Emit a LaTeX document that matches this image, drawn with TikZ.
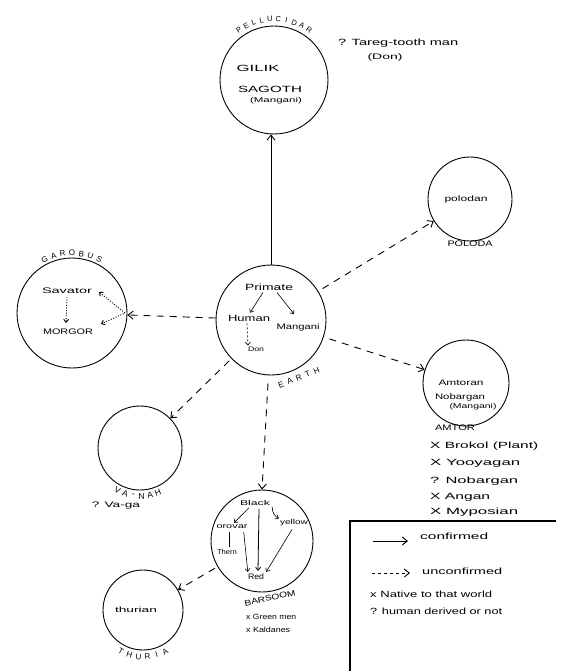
\documentclass[tikz,border=0pt]{standalone}
\usepackage{fontspec}
\setmainfont{Liberation Sans}
\usepackage{graphicx}
\usetikzlibrary{arrows.meta,calc}
\newcommand\hwid[2]{\resizebox{#1pt}{\height}{#2}}
\begin{document}
\begin{tikzpicture}[x=1pt,y=-1pt,
  planet/.style={draw, circle, line width=0.9pt, inner sep=0pt},
  txt/.style={inner sep=0pt, font=\fontsize{#1}{#1}\selectfont},
  tip/.style={-{Straight Barb[length=5pt,width=8pt]}},
  conf/.style={tip, line width=0.9pt},
  unconf/.style={tip, line width=0.9pt, dash pattern=on 7pt off 6pt},
  mini/.style={-{Straight Barb[length=3pt,width=5pt]}, line width=0.6pt},
  dots/.style={dash pattern=on 1pt off 1.6pt, line width=0.9pt},
]
\useasboundingbox (0,0) rectangle (560,671);

% planets
\node[planet, minimum size=108pt] (pel) at (274,80) {};
\node[planet, minimum size=84pt] (pol) at (470,199) {};
\node[planet, minimum size=110pt] (gar) at (72,313) {};
\node[planet, minimum size=110pt] (earth) at (271,320) {};
\node[planet, minimum size=86pt] (amt) at (466,383) {};
\node[planet, minimum size=84pt] (van) at (140,448) {};
\node[planet, minimum size=102pt] (bar) at (262,541) {};
\node[planet, minimum size=80pt] (thu) at (143,610) {};

% connectors
\draw[conf] (earth.north) -- (earth.north |- pel.south);
\draw[unconf, shorten <=5pt] (earth) -- (pol);
\draw[unconf] (earth) -- (gar);
\draw[unconf, shorten <=6pt] (earth) -- (amt);
\draw[unconf, shorten <=3pt] (earth) -- (van);
\draw[unconf] ($(earth.south)+(-3,8)$) -- (bar.north);
\draw[unconf, shorten <=3pt] (bar) -- (thu);

% Pellucidar
\foreach \ch [count=\i] in {P,E,L,L,U,C,I,D,A,R}{
  \pgfmathsetmacro\ang{235+(\i-1)*70/9}
  \pgfmathsetmacro\rot{270-\ang}
  \node[txt=7.5, rotate=\rot] (pl\i) at ($(pel)+(\ang:61)$) {\ch};
}
\node[txt=9] (gil) at (258,68) {\hwid{43}{GILIK}};
\node[txt=9] (sag) at (270,89) {\hwid{64}{SAGOTH}};
\node[txt=7] (sagm) at (276,101) {\hwid{52}{(Mangani)}};
\node[txt=9, anchor=west] (tar) at (338,43) {\hwid{120}{? Tareg-tooth man}};
\node[txt=8] (tard) at (385,57) {\hwid{35}{(Don)}};

% Poloda
\node[txt=8] (pold) at (466,199) {\hwid{43}{polodan}};
\node[txt=8] (pollbl) at (470,244) {\hwid{45}{POLODA}};

% Garobus
\foreach \ch [count=\i] in {G,A,R,O,B,U,S}{
  \pgfmathsetmacro\ang{243+(\i-1)*54/6}
  \pgfmathsetmacro\rot{270-\ang}
  \node[txt=8, rotate=\rot] (gl\i) at ($(gar)+(\ang:60)$) {\ch};
}
\node[txt=8] (sav) at (67,291) {\hwid{50}{Savator}};
\node[txt=8] (mor) at (68,332) {\hwid{50}{MORGOR}};
\coordinate (gv) at (125,313);
\coordinate (gs) at (99,292);
\coordinate (gm) at (101,324);
\draw[dots, -{Straight Barb[length=3pt,width=5pt]}] ($(sav.south)+(0,3)$) -- ($(mor.north)+(-2,-6)$);
\draw[dots, {Straight Barb[length=3pt,width=5pt]}-{Straight Barb[length=3pt,width=5pt]}] (gs) -- (gv) -- (gm);

% Earth
\node[txt=9] (pri) at (269,287) {\hwid{48}{Primate}};
\node[txt=9] (hum) at (249,318) {\hwid{42}{Human}};
\node[txt=8] (man) at (298,327) {\hwid{43}{Mangani}};
\node[txt=6.5] (don) at (256,349) {\hwid{16}{Don}};
\coordinate (est) at (281,385);
\foreach \ch [count=\i] in {E,A,R,T,H}{
  \pgfmathsetmacro\dd{(\i-1)*9.6}
  \node[txt=8, rotate=22] (el\i) at ($(est)+(-22:\dd)$) {\ch};
}
\draw[mini] ($(pri.south)+(-6,2)$) -- ($(hum.north)+(1,-2)$);
\draw[mini] ($(pri.south)+(8,2)$) -- ($(man.north)+(-4,-9)$);
\draw[mini, dash pattern=on 2pt off 2pt] ($(hum.south)+(-2,2)$) -- ($(don.north)+(-8,-1)$);

% Amtor
\node[txt=8] (amt1) at (461,383) {\hwid{45}{Amtoran}};
\node[txt=8] (amt2) at (460,397) {\hwid{50}{Nobargan}};
\node[txt=7] (amt3) at (473,407) {\hwid{47}{(Mangani)}};
\node[txt=8] (amtlbl) at (455,428) {\hwid{40}{AMTOR}};
\node[txt=9, anchor=west] (am1) at (430,446) {\hwid{108}{X Brokol (Plant)}};
\node[txt=9, anchor=west] (am2) at (430,463) {\hwid{90}{X Yooyagan}};
\node[txt=9, anchor=west] (am3) at (430,481) {\hwid{88}{? Nobargan}};
\node[txt=9, anchor=west] (am4) at (430,497) {\hwid{60}{X Angan}};
\node[txt=9, anchor=west] (am5) at (430,512) {\hwid{88}{X Myposian}};

% Va-nah
\foreach \ch [count=\i] in {V,A,-,N,A,H}{
  \pgfmathsetmacro\ang{118-(\i-1)*50/5}
  \pgfmathsetmacro\rot{90-\ang}
  \node[txt=8.5, rotate=\rot] (vl\i) at ($(van)+(\ang:48)$) {\ch};
}
\node[txt=8] (vaga) at (116,506) {\hwid{48}{? Va-ga}};

% Barsoom
\node[txt=7] (blk) at (255,503) {\hwid{30}{Black}};
\node[txt=7] (org) at (232,527) {\hwid{31}{orovar}};
\node[txt=7] (yel) at (294,523) {\hwid{28}{yellow}};
\node[txt=7] (thm) at (227,552) {\hwid{20}{Thern}};
\node[txt=8] (red) at (256,577) {\hwid{16}{Red}};
\node[txt=8, rotate=12] (barlbl) at (270,598) {\hwid{52}{BARSOOM}};
\node[txt=7.5, anchor=west] (grn) at (246,617) {\hwid{50}{x Green men}};
\node[txt=7.5, anchor=west] (kal) at (246,630) {\hwid{44}{x Kaldanes}};
\draw[mini] ($(blk.south)+(-6,2)$) -- ($(org.north)+(2,-2)$);
\draw[mini] ($(blk.east)+(2,4)$) to[bend right=30] ($(yel.north west)+(-1,-1)$);
\draw[mini, line width=0.8pt] ($(blk.south)+(4,3)$) -- ($(red.north)+(2,-3)$);
\draw[mini] ($(org.south east)+(-4,3)$) -- ($(red.north west)+(0,-2)$);
\draw[mini] ($(yel.south)+(-2,3)$) -- ($(red.north east)+(2,-2)$);
\draw[line width=0.6pt] ($(org.south)+(-3,3)$) -- ($(thm.north)+(2,-2)$);

% Thuria
\node[txt=7.5] (thn) at (136,610) {\hwid{42}{thurian}};
\foreach \ch [count=\i] in {T,H,U,R,I,A}{
  \pgfmathsetmacro\ang{118-(\i-1)*56/5}
  \pgfmathsetmacro\rot{90-\ang}
  \node[txt=8, rotate=\rot] (tl\i) at ($(thu)+(\ang:47)$) {\ch};
}

% legend
\coordinate (lgb) at (350,671);
\coordinate (lgc) at (350,521);
\coordinate (lgr) at (556,521);
\draw[line width=1.1pt] (lgb) -- (lgc) -- (lgr);
\coordinate (a1) at (373,541);
\coordinate (a2) at (408,541);
\draw[conf] (a1) -- (a2);
\node[txt=9, anchor=west] (lc) at (420,536) {\hwid{68}{confirmed}};
\coordinate (b1) at (372,573);
\coordinate (b2) at (410,573);
\draw[tip, line width=0.9pt, dash pattern=on 3pt off 3pt] (b1) -- (b2);
\node[txt=9, anchor=west] (lu) at (422,571) {\hwid{80}{unconfirmed}};
\node[txt=9, anchor=west] (ln) at (370,594) {\hwid{122}{x Native to that world}};
\node[txt=9, anchor=west] (lh) at (370,611) {\hwid{132}{? human derived or not}};
\end{tikzpicture}
\end{document}
